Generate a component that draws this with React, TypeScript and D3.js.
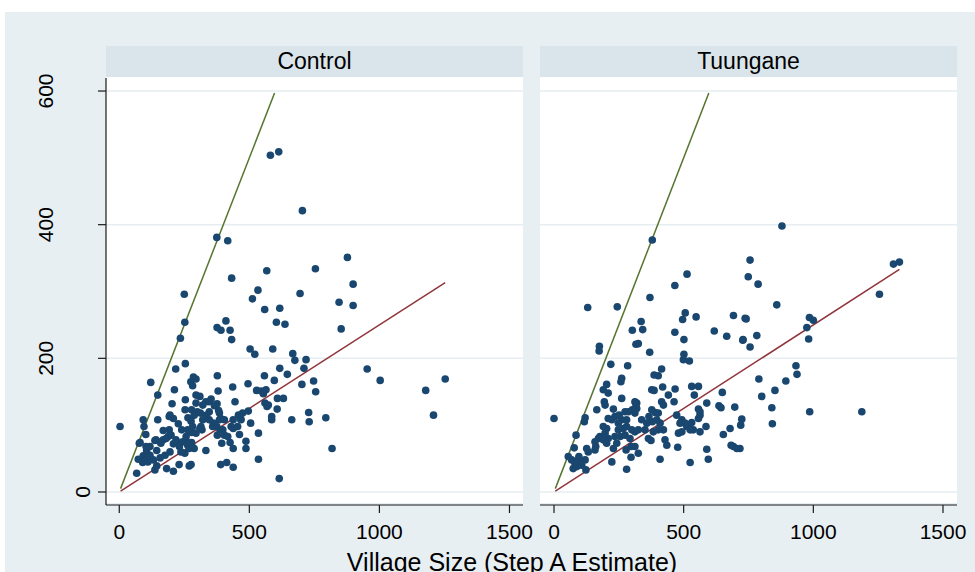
import React from 'react';
import * as d3 from 'd3';

const panelNames = ['Control', 'Tuungane'];
const xTicks = [0, 500, 1000, 1500];
const yTicks = [0, 200, 400, 600];
const xTitle = 'Village Size (Step A Estimate)';
const identityRange: [number, number] = [5, 597];
const refSlope = 0.25;
const refStart = 5;

const controlPoints: [number, number][] = [
  [581,504],[613,509],[704,421],[375,381],[417,376],[567,331],[754,334],[877,351],[432,320],[533,302],
  [512,289],[695,297],[899,311],[559,273],[617,275],[845,284],[899,279],[604,254],[637,251],[853,244],
  [426,242],[432,228],[250,296],[252,254],[235,230],[376,246],[391,242],[410,256],[503,214],[521,206],
  [590,214],[667,207],[675,197],[718,198],[710,185],[617,185],[646,176],[596,167],[558,174],[702,161],
  [747,166],[755,150],[528,152],[546,151],[564,153],[554,147],[495,162],[436,157],[377,174],[380,151],
  [217,184],[254,192],[285,172],[295,169],[275,165],[282,159],[212,153],[121,164],[148,145],[310,143],
  [254,138],[203,132],[295,133],[346,135],[376,132],[445,135],[560,133],[568,128],[607,124],[608,140],
  [631,140],[496,121],[458,115],[438,108],[385,118],[390,110],[346,120],[336,115],[300,120],[253,123],
  [195,115],[208,110],[148,108],[92,108],[95,98],[3,98],[102,86],[80,74],[586,108],[586,113],
  [663,108],[728,119],[730,105],[794,111],[505,103],[467,109],[535,88],[462,86],[487,76],[487,65],
  [426,74],[438,65],[394,73],[377,85],[310,95],[318,93],[278,89],[259,75],[278,74],[240,93],
  [227,102],[169,92],[188,83],[157,75],[137,77],[118,68],[144,62],[105,62],[92,54],[73,49],
  [90,44],[131,48],[144,39],[182,35],[208,31],[230,41],[252,58],[269,39],[276,41],[333,62],
  [390,41],[413,44],[438,37],[535,49],[615,20],[67,28],[438,95],[375,98],[387,93],[362,103],
  [208,72],[233,73],[169,78],[818,65],[353,139],[573,130],[77,73],[103,68],[192,113],[264,111],
  [276,106],[263,93],[192,93],[141,78],[160,73],[180,80],[199,85],[218,78],[244,75],[263,70],
  [282,98],[295,88],[314,98],[321,108],[278,123],[312,118],[288,115],[366,129],[382,122],[404,108],
  [385,108],[346,108],[359,98],[398,93],[404,85],[417,83],[468,108],[474,118],[455,98],[430,98],
  [333,135],[321,130],[295,145],[257,83],[269,65],[280,68],[288,65],[231,68],[237,60],[195,60],
  [176,55],[157,51],[118,55],[110,45],[107,51],[137,33],
  [953,184],[1003,167],[1178,152],[1253,169],[1208,115]
];

const tuunganePoints: [number, number][] = [
  [379,377],[879,398],[756,347],[1309,341],[1332,344],
  [749,322],[787,311],[859,280],[741,259],[729,228],[782,234],[756,217],[1255,296],[985,261],[1000,257],
  [975,246],[982,229],[933,189],[937,176],[894,166],[790,169],[852,152],[801,143],[840,126],[842,102],
  [986,120],[1187,120],[724,109],[720,100],[717,65],
  [0,110],[130,276],[244,277],[175,218],[174,211],[219,191],[284,189],[302,242],[336,255],[342,243],
  [316,221],[325,222],[370,291],[369,209],[466,309],[513,326],[496,258],[506,268],[548,262],[466,239],
  [501,228],[501,206],[499,198],[522,196],[618,241],[666,233],[692,264],[737,260],[728,227],
  [386,175],[402,174],[415,184],[377,153],[386,152],[419,157],[441,145],[467,154],[463,135],[541,145],
  [557,158],[649,149],[589,133],[557,124],[636,129],[644,126],[697,127],[679,95],[653,86],[683,70],
  [692,68],[705,65],[589,64],[595,49],[525,44],[477,67],[409,49],[280,34],[563,115],[586,98],
  [563,90],[531,104],[512,98],[525,93],[486,103],[493,90],[480,88],[473,115],[428,78],[435,70],
  [261,170],[258,165],[203,161],[190,153],[209,148],[194,135],[197,130],[261,140],[165,123],[120,111],
  [117,105],[85,85],[78,66],
  [55,53],[68,48],[81,43],[94,48],[74,35],[88,38],[107,40],[123,33],[120,48],[132,60],
  [126,65],[158,63],[161,68],[96,53],
  [223,45],[297,52],[325,58],[278,63],[297,68],[312,68],[229,65],[242,73],[209,80],[190,78],
  [171,80],[158,75],[203,73],[235,83],[255,83],[274,85],[293,80],[248,93],[267,95],[280,98],
  [300,93],[312,90],[325,93],[338,108],[351,93],[364,80],[374,77],
  [312,118],[319,125],[316,130],[287,120],[280,108],[261,108],[248,103],[235,113],[251,115],[223,108],
  [209,110],[203,95],[190,98],[177,83],[197,88],
  [229,124],[274,120],[319,133],
  [377,123],[390,119],[402,118],[396,108],[379,105],[409,103],[422,93],[402,93],[383,90],[358,103],
  [366,113],[415,135],[422,130],[493,108],[505,103],[518,98],[537,93],[557,110],[563,120],[531,158],
  [312,135],[302,123]
];

const panelData = [controlPoints, tuunganePoints];

const W = 975;
const H = 572;
const FONT = '"Liberation Sans", Arial, Helvetica, sans-serif';
const COLORS = {
  outer: '#E8EFF2',
  strip: '#D9E5EB',
  grid: '#E6EEF1',
  dot: '#1A476F',
  green: '#55752F',
  red: '#90353B',
  axis: '#1a1a1a',
};

const frames = [
  { x0: 106, x1: 523 },
  { x0: 540, x1: 957 },
];
const stripTop = 46;
const plotTop = 77;
const plotBottom = 503;
const axisY = 505;

export default function App() {
  const y = d3.scaleLinear().domain([-16.5, 621]).range([plotBottom, plotTop]);
  const xDomains: [number, number][] = [[-51, 1552], [-54, 1554]];

  return (
    <svg width={W} height={H} style={{ position: 'absolute', left: 0, top: 0 }} fontFamily={FONT}>
      <rect x={0} y={0} width={W} height={H} fill="#fff" />
      <rect x={5} y={12} width={W - 5} height={H - 12} fill={COLORS.outer} />
      {panelNames.map((name, i) => {
        const f = frames[i];
        const x = d3.scaleLinear().domain(xDomains[i]).range([f.x0, f.x1]);
        const pts = panelData[i];
        const maxX = d3.max(pts, (d) => d[0]) as number;
        const idLine = d3.line<number>().x((v) => x(v)).y((v) => y(v))(identityRange);
        const refLine = d3
          .line<number>()
          .x((v) => x(v))
          .y((v) => y(v * refSlope))([refStart, maxX]);
        return (
          <g key={name}>
            <rect x={f.x0} y={stripTop} width={f.x1 - f.x0} height={plotTop - stripTop} fill={COLORS.strip} />
            <text x={(f.x0 + f.x1) / 2} y={69} fontSize={23} textAnchor="middle" fill="#000">
              {name}
            </text>
            <rect x={f.x0} y={plotTop} width={f.x1 - f.x0} height={plotBottom - plotTop} fill="#fff" />
            {yTicks.map((t) => (
              <line key={t} x1={f.x0} x2={f.x1} y1={y(t)} y2={y(t)} stroke={COLORS.grid} strokeWidth={1.5} />
            ))}
            <path d={idLine || ''} fill="none" stroke={COLORS.green} strokeWidth={1.5} />
            <path d={refLine || ''} fill="none" stroke={COLORS.red} strokeWidth={1.5} />
            {pts.map((d, j) => (
              <circle key={j} cx={x(d[0])} cy={y(d[1])} r={3.8} fill={COLORS.dot} />
            ))}
            <line x1={f.x0} x2={f.x1} y1={axisY} y2={axisY} stroke={COLORS.axis} strokeWidth={1.2} />
            {xTicks.map((t) => (
              <g key={t}>
                <line x1={x(t)} x2={x(t)} y1={axisY} y2={axisY + 8} stroke={COLORS.axis} strokeWidth={1.2} />
                <text x={x(t)} y={538.5} fontSize={21} textAnchor="middle" fill="#000">
                  {t}
                </text>
              </g>
            ))}
          </g>
        );
      })}
      <line x1={frames[0].x0} x2={frames[0].x0} y1={plotTop + 1} y2={axisY} stroke={COLORS.axis} strokeWidth={1.2} />
      {yTicks.map((t) => {
        const lx = t === 0 ? 90 : 53;
        return (
          <g key={t}>
            <line x1={frames[0].x0 - 8} x2={frames[0].x0} y1={y(t)} y2={y(t)} stroke={COLORS.axis} strokeWidth={1.2} />
            <text
              transform={`translate(${lx},${y(t)}) rotate(-90)`}
              fontSize={21}
              textAnchor="middle"
              fill="#000"
            >
              {t}
            </text>
          </g>
        );
      })}
      <text x={512} y={570.5} fontSize={25} textAnchor="middle" fill="#000">
        {xTitle}
      </text>
    </svg>
  );
}
